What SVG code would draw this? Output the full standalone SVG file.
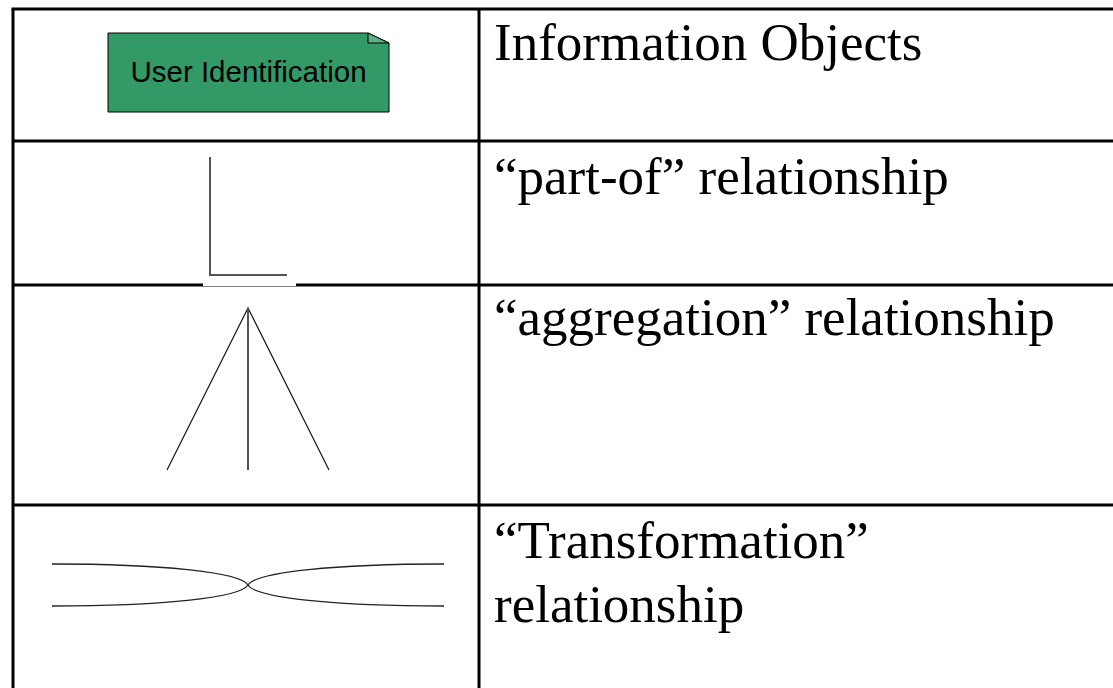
<svg xmlns="http://www.w3.org/2000/svg" width="1113" height="688" viewBox="0 0 1113 688">
<style>
.grid{stroke:#000;stroke-width:3;fill:none}
.lbl{font-family:"Liberation Serif","Times New Roman",serif;font-size:53px;fill:#000}
.sym{fill:none;stroke:#222;stroke-width:1.3}
.symg{fill:none;stroke:#555;stroke-width:2}
</style>
<rect width="1113" height="688" fill="#fff"/>
<g id="table">
<line class="grid" x1="11.5" y1="9" x2="1113" y2="9"/>
<line class="grid" x1="13" y1="9" x2="13" y2="688"/>
<line class="grid" x1="479" y1="9" x2="479" y2="688"/>
<line class="grid" x1="13" y1="141" x2="1113" y2="141"/>
<line class="grid" x1="13" y1="285" x2="1113" y2="285"/>
<line class="grid" x1="13" y1="505" x2="1113" y2="505"/>
</g>
<g id="node-info-object">
<path d="M108,33 H368 L389,43 V112 H108 Z" fill="#339966" stroke="#000" stroke-width="1"/>
<path d="M368,33 V43 H389 Z" fill="#5cb085" stroke="#000" stroke-width="1"/>
<text x="248.5" y="82" text-anchor="middle" font-family="'Liberation Sans',Arial,sans-serif" font-size="29.5" fill="#000">User Identification</text>
</g>
<g id="label-info"><text class="lbl" x="494" y="60">Information Objects</text></g>
<g id="symbol-part-of">
<rect x="203" y="282" width="93" height="4" fill="#fff"/>
<path class="symg" d="M210,157 V275 H287"/>
</g>
<g id="label-part-of"><text class="lbl" x="494" y="194">“part-of” relationship</text></g>
<g id="symbol-aggregation">
<path class="sym" d="M167,470 L248,308 L329,470"/>
<line class="symg" x1="248" y1="308" x2="248" y2="470"/>
</g>
<g id="label-aggregation"><text class="lbl" x="494" y="335">“aggregation” relationship</text></g>
<g id="symbol-transformation">
<path class="sym" d="M52,564 C160,564 240,572 248,585 C240,598 160,606 52,606"/>
<path class="sym" d="M444,564 C336,564 256,572 248,585 C256,598 336,606 444,606"/>
</g>
<g id="label-transformation"><text class="lbl" x="494" y="558">“Transformation”</text><text class="lbl" x="494" y="622">relationship</text></g>
</svg>
